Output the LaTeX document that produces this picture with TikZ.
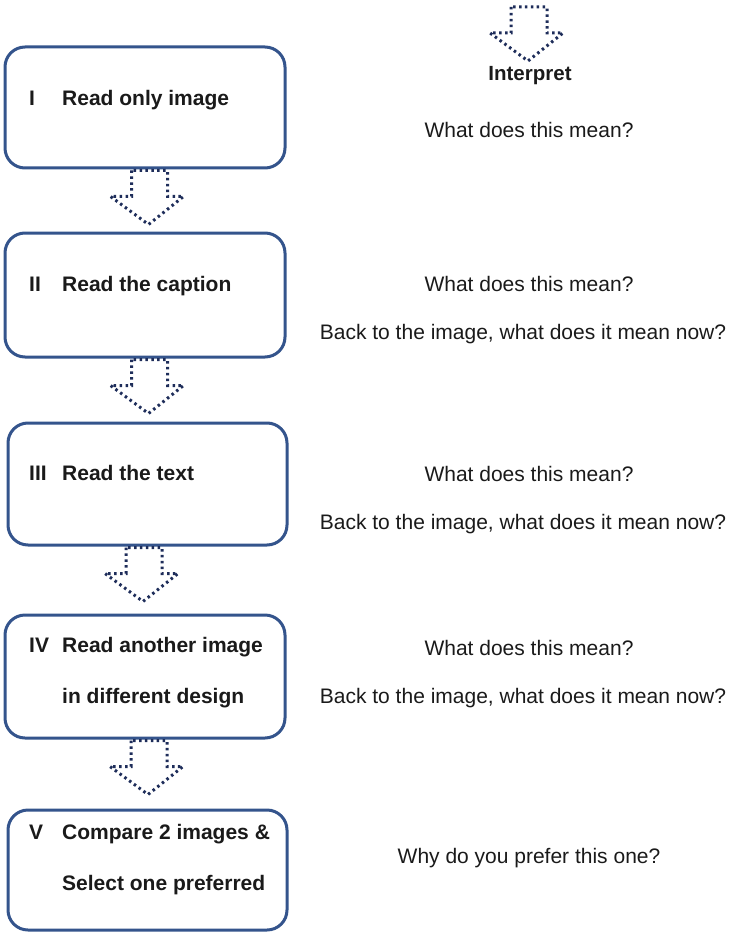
\documentclass[tikz,border=0pt]{standalone}
\usepackage{fontspec}
\setmainfont{Liberation Sans}
\usetikzlibrary{calc}
\definecolor{boxblue}{RGB}{52,84,140}
\definecolor{dotnavy}{RGB}{30,45,90}
\definecolor{ink}{RGB}{26,26,26}
\tikzset{
  stepbox/.style={draw=boxblue, line width=3pt, rounded corners=20pt, fill=white, inner sep=0pt},
  lbl/.style={inner sep=0pt, text=ink, font=\fontsize{21}{25}\selectfont\bfseries, anchor=base west},
  note/.style={inner sep=0pt, text=ink, font=\fontsize{21}{25}\selectfont, anchor=base},
  dotline/.style={draw=dotnavy, line width=3pt, line cap=butt, dash pattern=on 2.5pt off 3.4pt, line join=miter},
  pics/downarrow/.style={code={
    \draw[dotline] (-18,0) -- (-18,26) -- (-39,26) -- (-1,54) -- (34,26) -- (18,26) -- (18,0) -- cycle;
  }}
}
\begin{document}
\begin{tikzpicture}[x=1pt, y=-1pt]
\useasboundingbox (0,0) rectangle (735,933);

% step boxes
\node[stepbox, minimum width=280pt, minimum height=121pt] (b1) at (145,107.5) {};
\node[stepbox, minimum width=280pt, minimum height=124pt] (b2) at (145,295) {};
\node[stepbox, minimum width=279pt, minimum height=122pt] (b3) at (147.5,484) {};
\node[stepbox, minimum width=280pt, minimum height=123pt] (b4) at (145,676.5) {};
\node[stepbox, minimum width=279pt, minimum height=120pt] (b5) at (147.5,870) {};

% step labels
\node[lbl] (n1) at (29,105.5) {I};
\node[lbl] (t1) at (62,105.5) {Read only image};
\node[lbl] (n2) at (29,291.5) {II};
\node[lbl] (t2) at (62,291.5) {Read the caption};
\node[lbl] (n3) at (29,480.5) {III};
\node[lbl] (t3) at (62,480.5) {Read the text};
\node[lbl] (n4) at (29,652.5) {IV};
\node[lbl] (t4a) at (62,652.5) {Read another image};
\node[lbl] (t4b) at (62,703.5) {in different design};
\node[lbl] (n5) at (29,839.5) {V};
\node[lbl] (t5a) at (62,839.5) {Compare 2 images \&};
\node[lbl] (t5b) at (62,890.5) {Select one preferred};

% dotted block arrows between the steps
\pic at ($(b1.south)+(4.5,1)$) {downarrow};
\pic at ($(b2.south)+(4.5,1)$) {downarrow};
\pic at ($(b3.south)+(-3.5,1)$) {downarrow};
\pic at ($(b4.south)+(4,1)$) {downarrow};

% interpretation column
\coordinate (top) at (529,7);
\pic at (top) {downarrow};
\node[note, font=\fontsize{20.5}{24}\selectfont\bfseries] (interp) at (530,81) {Interpret};

\node[note] (q1) at (529,138) {What does this mean?};
\node[note] (q2a) at (529,291) {What does this mean?};
\node[note] (q2b) at (523,339) {Back to the image, what does it mean now?};
\node[note] (q3a) at (529,481) {What does this mean?};
\node[note] (q3b) at (523,529) {Back to the image, what does it mean now?};
\node[note] (q4a) at (529,655.5) {What does this mean?};
\node[note] (q4b) at (523,703) {Back to the image, what does it mean now?};
\node[note] (q5) at (529,863.5) {Why do you prefer this one?};
\end{tikzpicture}
\end{document}
